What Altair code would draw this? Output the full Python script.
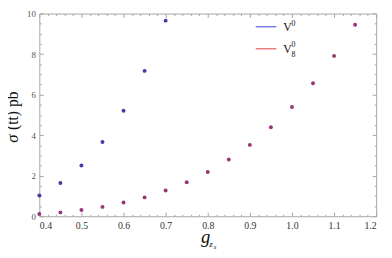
import altair as alt
import pandas as pd

# ---- data ----
x_blue = [0.40, 0.45, 0.50, 0.55, 0.60, 0.65, 0.70]
y_blue = [1.02, 1.64, 2.50, 3.66, 5.20, 7.17, 9.65]
x_red = [0.40, 0.45, 0.50, 0.55, 0.60, 0.65, 0.70, 0.75, 0.80, 0.85,
         0.90, 0.95, 1.00, 1.05, 1.10, 1.15]
y_red = [0.11, 0.19, 0.31, 0.46, 0.68, 0.93, 1.27, 1.68, 2.18, 2.80,
         3.52, 4.39, 5.39, 6.56, 7.91, 9.45]
x_major = [0.4, 0.5, 0.6, 0.7, 0.8, 0.9, 1.0, 1.1, 1.2]
y_major = [0, 2, 4, 6, 8, 10]
x_minor = [round(0.4 + 0.02 * i, 2) for i in range(41) if i % 5]
y_minor = [0.5 * i for i in range(21) if i % 4]

df = pd.DataFrame({
    "g": x_blue + x_red,
    "sigma": y_blue + y_red,
    "series": ["V0"] * len(x_blue) + ["V8"] * len(x_red),
})

TOP = 3
W, H = 344, 207
FRAME = "#a6a6a6"
SERIF = "Liberation Serif"
xs = alt.Scale(domain=[0.4, 1.2], nice=False, zero=False)
ys = alt.Scale(domain=[0, 10], nice=False, zero=False)


def ax(orient, values, size, labels=False, domain=False, **kw):
    return alt.Axis(orient=orient, values=values, tickSize=alt.ExprRef(expr=str(-size)),
                    ticks=True, labels=labels, domain=domain, grid=False, title=None,
                    tickColor=FRAME, domainColor=FRAME, tickWidth=1, domainWidth=1, **kw)


points = alt.Chart(df).mark_circle(size=16, opacity=1, clip=False).encode(
    x=alt.X("g:Q", scale=xs,
            axis=ax("bottom", x_major, 4, labels=True, domain=True, format=".1f",
                    labelFont=SERIF, labelFontSize=10, labelColor="#333333", labelPadding=9)),
    y=alt.Y("sigma:Q", scale=ys,
            axis=ax("left", y_major, 4, labels=True, domain=True, format="d",
                    labelFont=SERIF, labelFontSize=9, labelColor="#555555", labelPadding=8)),
    color=alt.Color("series:N", scale=alt.Scale(domain=["V0", "V8"], range=["#3e3ea6", "#963674"]),
                    legend=None),
)


def ghost(xo, xv, xsz, yo, yv, ysz, dom=False):
    return alt.Chart(df).mark_point(opacity=0).encode(
        x=alt.X("g:Q", scale=xs, axis=ax(xo, xv, xsz, domain=dom)),
        y=alt.Y("sigma:Q", scale=ys, axis=ax(yo, yv, ysz, domain=dom)),
    )


minor_bl = ghost("bottom", x_minor, 2, "left", y_minor, 2)
major_tr = ghost("top", x_major, 4, "right", y_major, 4, dom=True)
minor_tr = ghost("top", x_minor, 2, "right", y_minor, 2)

one = alt.Data(values=[{}])


def txt(s, x, y, size, italic=False, angle=0, align="left", baseline="alphabetic"):
    return alt.Chart(one).mark_text(
        text=s, font=SERIF, fontSize=size, fontStyle="italic" if italic else "normal",
        angle=angle, align=align, baseline=baseline, color="#111111",
    ).encode(x=alt.value(x), y=alt.value(y))


oy = 8 + TOP  # page y of view top
leg1 = alt.Chart(one).mark_rule(color="#5c5ce8", strokeWidth=1.2).encode(
    x=alt.value(221), x2=alt.value(242), y=alt.value(24.5 - oy))
leg2 = alt.Chart(one).mark_rule(color="#e85c5c", strokeWidth=1.2).encode(
    x=alt.value(221), x2=alt.value(242), y=alt.value(47 - oy))

labels = [
    txt("V", 249, 29 - oy, 12), txt("0", 257.5, 23.5 - oy, 8),
    txt("V", 249, 51 - oy, 12), txt("0", 257.5, 45.5 - oy, 8), txt("8", 257.5, 55 - oy, 8),
    # x title
    txt("g", 165, 245 - oy, 19, italic=True),
    txt("z", 173.5, 249 - oy, 9, italic=True), txt("x", 178, 251 - oy, 6, italic=True),
    # y title (rotated)
    txt("σ", -27, 143 - oy, 17, italic=True, angle=270, baseline="middle"),
    txt("(tt)  pb", -27, 130 - oy, 16, angle=270, baseline="middle"),
]

chart = alt.layer(points, minor_bl, major_tr, minor_tr, leg1, leg2, *labels).resolve_axis(
    x="independent", y="independent"
).properties(
    width=W, height=H,
    autosize=alt.AutoSizeParams(type="none"),
    padding={"left": 32, "top": TOP, "right": 8, "bottom": 40},
).configure_view(stroke=None)

chart.save("out.html", embed_options={"renderer": "svg", "actions": False})
